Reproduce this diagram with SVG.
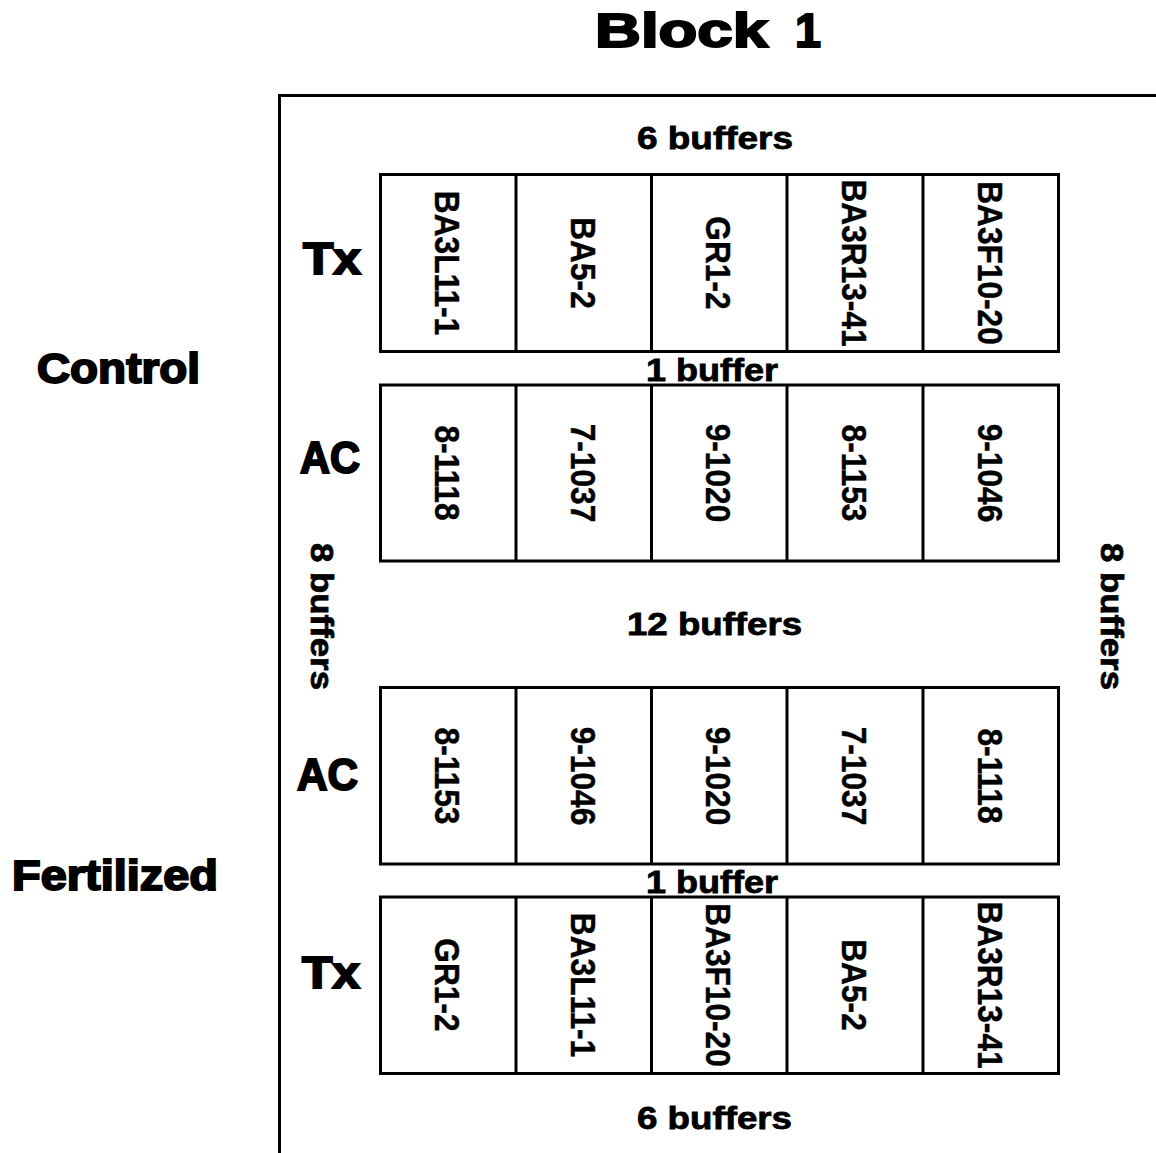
<svg xmlns="http://www.w3.org/2000/svg" width="1156" height="1153" viewBox="0 0 1156 1153">
<style>
.lbl{font-family:"Liberation Sans",Arial,sans-serif;font-weight:bold;fill:#000;stroke:#000;stroke-width:2;}
.buf{font-family:"Liberation Sans",Arial,sans-serif;font-weight:bold;font-size:32px;fill:#000;stroke:#000;stroke-width:0.8;}
.cell{font-family:"Liberation Sans",Arial,sans-serif;font-weight:bold;font-size:36px;fill:#000;stroke:#000;stroke-width:0.4;text-anchor:middle;}
.box{fill:#fff;stroke:#000;stroke-width:3;}
.ln{stroke:#000;stroke-width:3;fill:none;}
</style>
<rect width="1156" height="1153" fill="#fff"/>
<g id="title"><text class="lbl" y="47" font-size="48" stroke-width="2.5"><tspan x="595" textLength="173" lengthAdjust="spacingAndGlyphs">Block</tspan> <tspan x="795" textLength="26" lengthAdjust="spacingAndGlyphs">1</tspan></text></g>
<g id="frame">
<path class="ln" d="M279.5 1153 V95.5 H1156"/>
</g>
<g id="side-labels">
<text class="lbl" x="37" y="383" font-size="43" textLength="163" lengthAdjust="spacingAndGlyphs">Control</text>
<text class="lbl" x="12" y="890" font-size="43" textLength="206" lengthAdjust="spacingAndGlyphs">Fertilized</text>
<text class="lbl" x="303" y="274" font-size="44" textLength="58" lengthAdjust="spacingAndGlyphs">Tx</text>
<text class="lbl" x="300" y="473" font-size="44" textLength="60" lengthAdjust="spacingAndGlyphs">AC</text>
<text class="lbl" x="297" y="790" font-size="44" textLength="61" lengthAdjust="spacingAndGlyphs">AC</text>
<text class="lbl" x="302" y="988" font-size="44" textLength="58" lengthAdjust="spacingAndGlyphs">Tx</text>
</g>
<g id="buffers">
<text class="buf" x="637" y="149" textLength="156" lengthAdjust="spacingAndGlyphs">6 buffers</text>
<text class="buf" x="646" y="381" textLength="132" lengthAdjust="spacingAndGlyphs">1 buffer</text>
<text class="buf" x="627" y="635" textLength="175" lengthAdjust="spacingAndGlyphs">12 buffers</text>
<text class="buf" x="646" y="893" textLength="132" lengthAdjust="spacingAndGlyphs">1 buffer</text>
<text class="buf" x="637" y="1129" textLength="155" lengthAdjust="spacingAndGlyphs">6 buffers</text>
<text class="buf" transform="translate(322.5,616.5) rotate(90)" x="-73.5" y="12" textLength="147" lengthAdjust="spacingAndGlyphs">8 buffers</text>
<text class="buf" transform="translate(1112.5,616.5) rotate(90)" x="-73.5" y="12" textLength="147" lengthAdjust="spacingAndGlyphs">8 buffers</text>
</g>
<g id="row1">
<rect class="box" x="380.5" y="174.5" width="678" height="177"/>
<path class="ln" d="M516 174.5V351.5M651.5 174.5V351.5M787 174.5V351.5M923 174.5V351.5"/>
<text class="cell" transform="translate(448,263) rotate(90) scale(0.88,1)" y="12.9">BA3L11-1</text>
<text class="cell" transform="translate(584,263) rotate(90) scale(0.88,1)" y="12.9">BA5-2</text>
<text class="cell" transform="translate(719,263) rotate(90) scale(0.88,1)" y="12.9">GR1-2</text>
<text class="cell" transform="translate(855,263) rotate(90) scale(0.88,1)" y="12.9">BA3R13-41</text>
<text class="cell" transform="translate(991,263) rotate(90) scale(0.88,1)" y="12.9">BA3F10-20</text>
</g>
<g id="row2">
<rect class="box" x="380.5" y="385" width="678" height="176"/>
<path class="ln" d="M516 385V561M651.5 385V561M787 385V561M923 385V561"/>
<text class="cell" transform="translate(448,473) rotate(90) scale(0.88,1)" y="12.9">8-1118</text>
<text class="cell" transform="translate(584,473) rotate(90) scale(0.88,1)" y="12.9">7-1037</text>
<text class="cell" transform="translate(719,473) rotate(90) scale(0.88,1)" y="12.9">9-1020</text>
<text class="cell" transform="translate(855,473) rotate(90) scale(0.88,1)" y="12.9">8-1153</text>
<text class="cell" transform="translate(991,473) rotate(90) scale(0.88,1)" y="12.9">9-1046</text>
</g>
<g id="row3">
<rect class="box" x="380.5" y="687.5" width="678" height="176.5"/>
<path class="ln" d="M516 687.5V864M651.5 687.5V864M787 687.5V864M923 687.5V864"/>
<text class="cell" transform="translate(448,776) rotate(90) scale(0.88,1)" y="12.9">8-1153</text>
<text class="cell" transform="translate(584,776) rotate(90) scale(0.88,1)" y="12.9">9-1046</text>
<text class="cell" transform="translate(719,776) rotate(90) scale(0.88,1)" y="12.9">9-1020</text>
<text class="cell" transform="translate(855,776) rotate(90) scale(0.88,1)" y="12.9">7-1037</text>
<text class="cell" transform="translate(991,776) rotate(90) scale(0.88,1)" y="12.9">8-1118</text>
</g>
<g id="row4">
<rect class="box" x="380.5" y="897" width="678" height="176.5"/>
<path class="ln" d="M516 897V1073.5M651.5 897V1073.5M787 897V1073.5M923 897V1073.5"/>
<text class="cell" transform="translate(448,985) rotate(90) scale(0.88,1)" y="12.9">GR1-2</text>
<text class="cell" transform="translate(584,985) rotate(90) scale(0.88,1)" y="12.9">BA3L11-1</text>
<text class="cell" transform="translate(719,985) rotate(90) scale(0.88,1)" y="12.9">BA3F10-20</text>
<text class="cell" transform="translate(855,985) rotate(90) scale(0.88,1)" y="12.9">BA5-2</text>
<text class="cell" transform="translate(991,985) rotate(90) scale(0.88,1)" y="12.9">BA3R13-41</text>
</g>
</svg>
